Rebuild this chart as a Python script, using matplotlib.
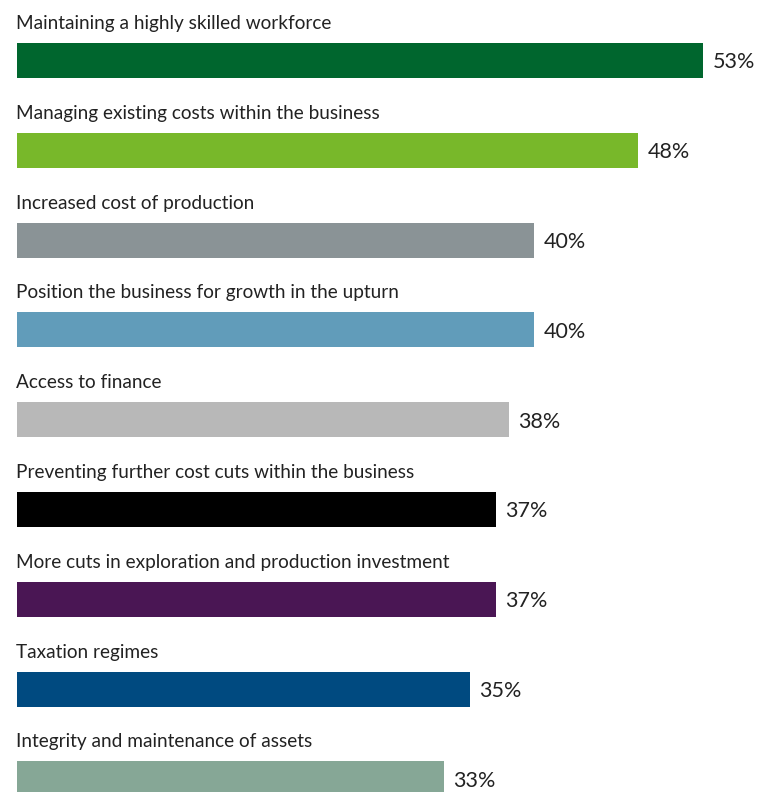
import matplotlib.pyplot as plt

# Survey results: share of respondents naming each priority
categories = [
    'Maintaining a highly skilled workforce',
    'Managing existing costs within the business',
    'Increased cost of production',
    'Position the business for growth in the upturn',
    'Access to finance',
    'Preventing further cost cuts within the business',
    'More cuts in exploration and production investment',
    'Taxation regimes',
    'Integrity and maintenance of assets',
]
values = [53, 48, 40, 40, 38, 37, 37, 35, 33]
colors = ['#00662e', '#78b82a', '#8a9396', '#619cba', '#b8b8b8',
          '#000000', '#4a1654', '#004a80', '#86a796']

plt.rcParams['font.family'] = ['Lato', 'DejaVu Sans']

fig = plt.figure(figsize=(7.57, 7.92), dpi=100)
ax = fig.add_axes([0, 0, 1, 1])

pos = list(range(len(categories)))
ax.barh(pos, values, height=0.39, color=colors, align='center')

for i, (name, v) in enumerate(zip(categories, values)):
    ax.text(-0.05, i - 0.35, name, ha='left', va='baseline',
            fontsize=13.7, color='#222222')
    ax.text(v + 0.75, i + 0.02, f'{v}%', ha='left', va='center',
            fontsize=15.5, color='#222222')

ax.set_xlim(-1.31, 57.2)
ax.set_ylim(8.146, -0.674)
ax.axis('off')

fig.savefig('out.png', dpi=100)
